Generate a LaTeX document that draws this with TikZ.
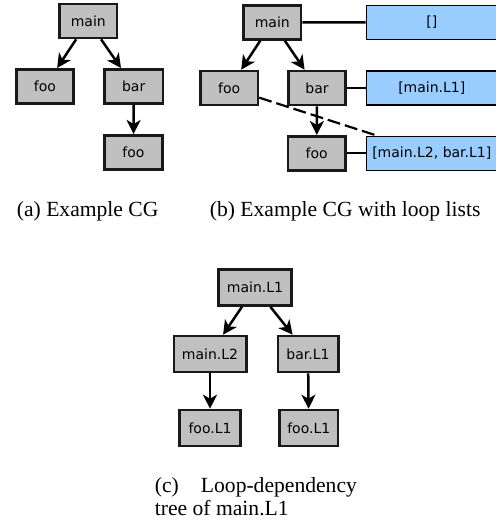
\documentclass[tikz,border=0pt]{standalone}
\usepackage{fontspec}
\setmainfont{Liberation Serif}
\newfontfamily\boxfont{DejaVu Sans}
\usetikzlibrary{arrows.meta}
\definecolor{boxgray}{RGB}{192,192,192}
\definecolor{boxedge}{RGB}{25,25,25}
\definecolor{listblue}{RGB}{153,204,255}
\begin{document}
\begin{tikzpicture}[x=0.5pt,y=-0.5pt,
  fn/.style={draw=boxedge, line width=1.3pt, fill=boxgray,
    font=\boxfont\fontsize{7}{8}\selectfont, inner sep=0pt,
    minimum height=17pt, minimum width=#1},
  fn/.default=28.7pt,
  fnc/.style={fn=#1, minimum height=18pt},
  lst/.style={draw=black, line width=0.6pt, fill=listblue,
    font=\boxfont\fontsize{7}{8}\selectfont, inner sep=0pt,
    minimum height=17pt, minimum width=65.5pt},
  call/.style={-{Stealth[length=7pt,width=7pt,inset=2pt]}, line width=1.25pt},
  link/.style={line width=1.2pt},
  loopdep/.style={line width=1.1pt, dash pattern=on 6.5pt off 2.5pt},
  captext/.style={anchor=base west, inner sep=0pt, font=\fontsize{10.8}{12}\selectfont}
]
\useasboundingbox (0,0) rectangle (496,523);

% (a) call graph
\node[fn] (a_main) at (88.3,21) {main};
\node[fn] (a_foo) at (45,86.3) {foo};
\node[fn=29.2pt] (a_bar) at (133.7,86.3) {bar};
\node[fn=29.2pt] (a_foo2) at (133.5,152.3) {foo};
\draw[call] (a_main) -- (a_foo);
\draw[call] (a_main) -- (a_bar);
\draw[call] (a_bar) -- (a_foo2);

% (b) call graph with loop lists
\node[fn] (b_main) at (272.3,22.3) {main};
\node[fn] (b_foo) at (229.2,88) {foo};
\node[fn] (b_bar) at (317,88) {bar};
\node[fn] (b_foo2) at (316.7,153.3) {foo};
\node[lst] (l_main) at (431.8,22.5) {[]};
\node[lst] (l_bar) at (431.8,88) {[main.L1]};
\node[lst] (l_foo2) at (431.8,153.3) {[main.L2, bar.L1]};
\draw[call] (b_main) -- (b_foo);
\draw[call] (b_main) -- (b_bar);
\draw[call] (b_bar) -- (b_foo2);
\draw[link] (b_main) -- (l_main);
\draw[link] (b_bar) -- (l_bar);
\draw[link] (b_foo2) -- (l_foo2);
\draw[loopdep] (b_foo) -- (l_foo2);

% (c) loop-dependency tree
\node[fnc=36.7pt] (c_top) at (255,287.5) {main.L1};
\node[fnc=36.2pt] (c_l2) at (210,354) {main.L2};
\node[fnc=30.2pt] (c_bar) at (308,354) {bar.L1};
\node[fnc=30.4pt] (c_foo1) at (210,428) {foo.L1};
\node[fnc=29.2pt] (c_foo2) at (308.8,428) {foo.L1};
\draw[call] (c_top) -- (c_l2);
\draw[call] (c_top) -- (c_bar);
\draw[call] (c_l2) -- (c_foo1);
\draw[call] (c_bar) -- (c_foo2);

% captions
\node[captext] (cap_a) at (16.5,217) {(a) Example CG};
\node[captext] (cap_b) at (209.5,217) {(b) Example CG with loop lists};
\node[captext] (cap_c1) at (154.5,492) {\hbox to 101pt{(c)\hfill Loop-dependency}};
\node[captext] (cap_c2) at (154.5,515) {tree of main.L1};
\end{tikzpicture}
\end{document}
